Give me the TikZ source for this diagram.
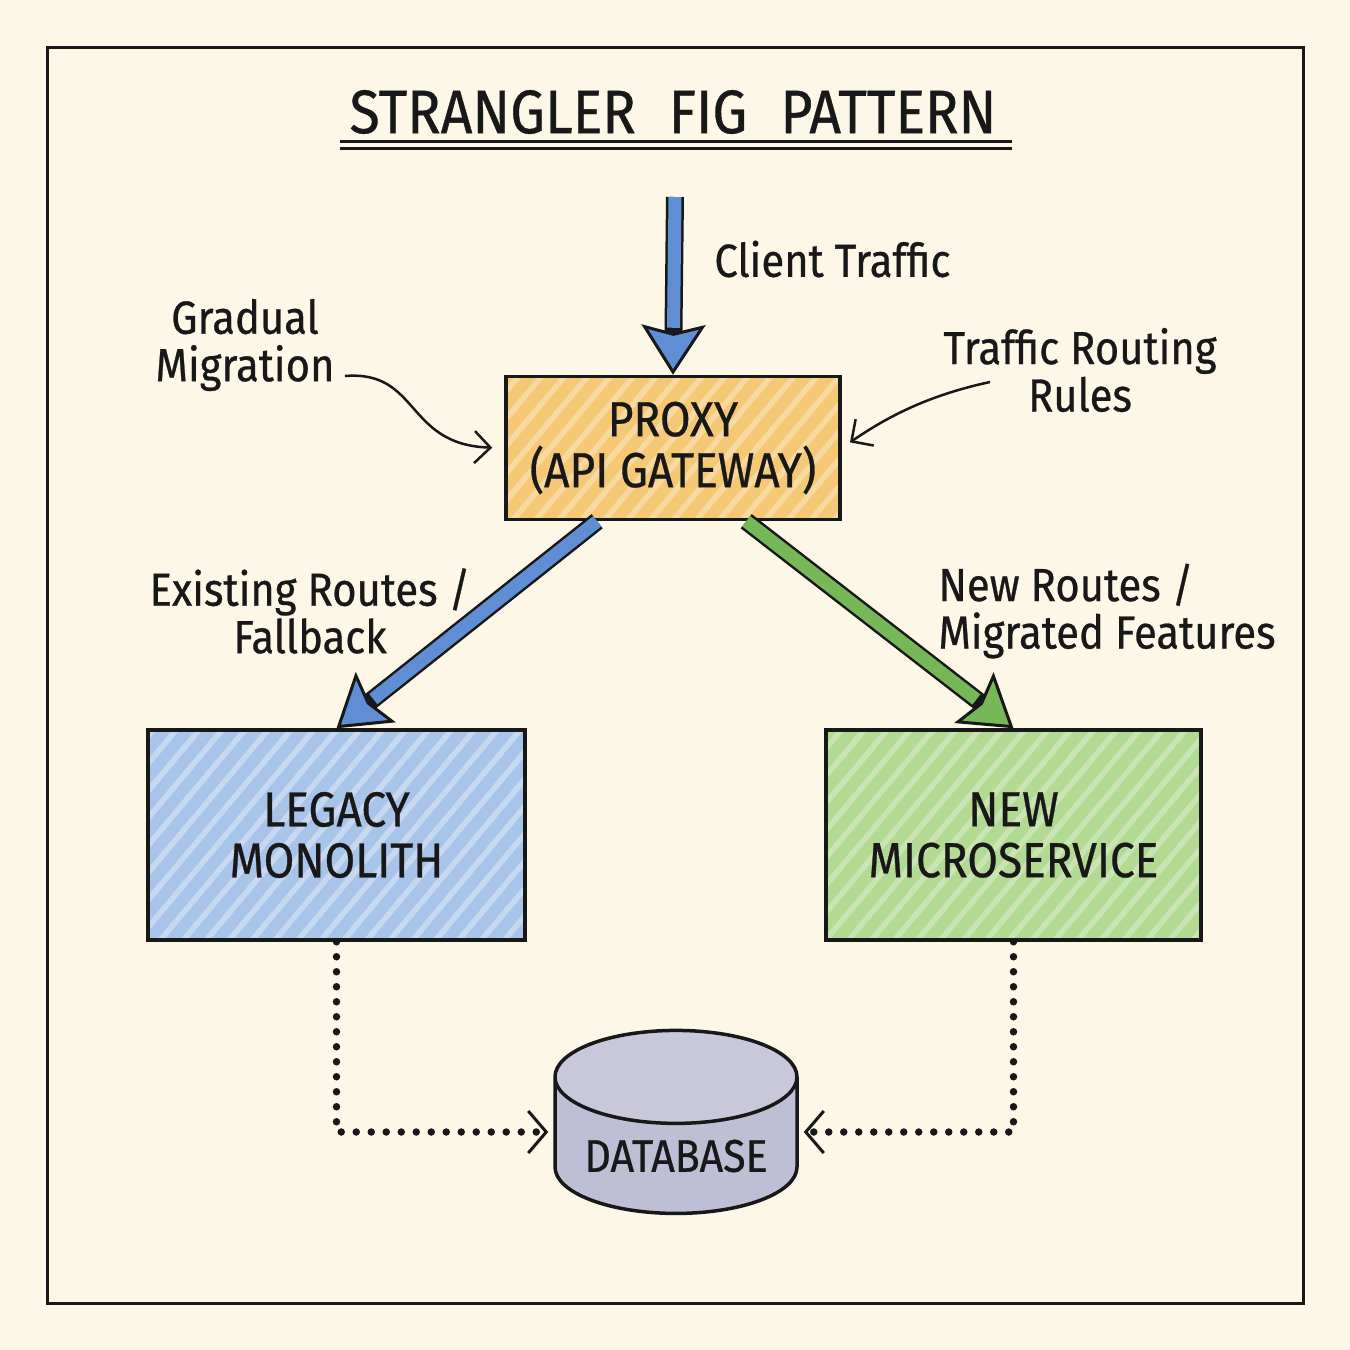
\documentclass[tikz,border=0pt]{standalone}
\usepackage{fontspec}
\setmainfont{Fira Sans}[FakeStretch=0.9, FakeBold=0.6]
\usetikzlibrary{arrows.meta,shapes.geometric,patterns.meta}

\definecolor{paper}{RGB}{252,247,230}
\definecolor{ink}{RGB}{24,24,24}
\definecolor{proxyfill}{RGB}{245,200,118}
\definecolor{legacyfill}{RGB}{168,196,232}
\definecolor{newfill}{RGB}{178,218,146}
\definecolor{dbfill}{RGB}{190,190,212}
\definecolor{arrowblue}{RGB}{96,142,212}
\definecolor{arrowgreen}{RGB}{118,184,88}

\begin{document}
\begin{tikzpicture}[
  box/.style={draw=ink, line width=0.035cm, align=center, text=ink,
    font=\fontsize{14}{14.5}\selectfont},
  hatch/.style={path picture={\fill[pattern={Lines[angle=50, distance=5pt, line width=1.6pt]}, pattern color=#1]
    (path picture bounding box.south west) rectangle (path picture bounding box.north east);}},
  note/.style={text=ink, font=\fontsize{13.2}{13.5}\selectfont},
  fatline/.style={draw=ink, line width=0.18cm},
  thinline/.style={draw=ink, line width=0.025cm},
  dotline/.style={draw=ink, line width=0.075cm, line cap=round,
    dash pattern=on 0pt off 0.15cm}
]
\useasboundingbox (0,0) rectangle (13.5,-13.5);
\fill[paper] (0,0) rectangle (13.5,-13.5);
\draw[ink, line width=0.03cm] (0.47,-0.47) rectangle (13.03,-13.03);

% title
\node[text=ink, font=\fontsize{17.5}{20}\selectfont] (title) at (6.73,-1.12) {STRANGLER\hspace{0.3em} FIG\hspace{0.3em} PATTERN};
\draw[ink, line width=0.03cm] (3.40,-1.41) -- (10.12,-1.41);
\draw[ink, line width=0.03cm] (3.40,-1.48) -- (10.12,-1.48);

% boxes
\node[box, fill=proxyfill, hatch=white!30!proxyfill, minimum width=3.34cm, minimum height=1.43cm] (proxy) at (6.73,-4.48) {PROXY\\(API GATEWAY)};
\node[box, fill=legacyfill, hatch=white!35!legacyfill, minimum width=3.77cm, minimum height=2.10cm] (legacy) at (3.365,-8.35) {LEGACY\\MONOLITH};
\node[box, fill=newfill, hatch=white!30!newfill, minimum width=3.75cm, minimum height=2.10cm] (new) at (10.135,-8.35) {NEW\\MICROSERVICE};
\node[cylinder, shape border rotate=90, draw=ink, line width=0.035cm, aspect=0.45,
  minimum width=2.42cm, minimum height=1.83cm, text=ink, font=\fontsize{13}{14}\selectfont,
  cylinder uses custom fill, cylinder body fill=dbfill, cylinder end fill=dbfill!85!white] (db) at (6.76,-11.56) {DATABASE};

% labels
\node[note, anchor=west] (client) at (7.02,-2.59) {Client Traffic};
\node[note, align=center] (gradual) at (2.45,-3.45) {Gradual\\Migration};
\node[note, align=center] (rules) at (10.80,-3.70) {Traffic Routing\\Rules};
\node[note, align=center] (existing) at (3.10,-6.11) {Existing Routes /\\Fallback};
\node[note, align=left, anchor=west] (newroutes) at (9.26,-6.11) {New Routes /\\Migrated Features};

\coordinate (ct) at (6.75,-1.97);
\coordinate (gmtail) at (3.45,-3.76);
\coordinate (trtail) at (9.90,-3.82);

% fat arrows
\path[fatline, -{Stealth[inset=0.08cm, length=0.50cm, width=0.64cm, line width=0.03cm, fill=arrowblue]}] (ct) -- (proxy.north);
\path[draw=arrowblue, line width=0.13cm, shorten >=0.47cm] (ct) -- (proxy.north);
\path[fatline, -{Stealth[inset=0.08cm, length=0.50cm, width=0.64cm, line width=0.03cm, fill=arrowblue]}] (proxy.-136) -- (legacy.north);
\path[draw=arrowblue, line width=0.13cm, shorten >=0.47cm] (proxy.-136) -- (legacy.north);
\path[fatline, -{Stealth[inset=0.08cm, length=0.50cm, width=0.64cm, line width=0.03cm, fill=arrowgreen]}] (proxy.-45) -- (new.north);
\path[draw=arrowgreen, line width=0.13cm, shorten >=0.47cm] (proxy.-45) -- (new.north);

% thin curved arrows
\path[thinline, -{Straight Barb[length=0.16cm, width=0.32cm]}, shorten >=0.12cm] (gmtail) .. controls (4.20,-3.70) and (4.05,-4.45) .. (proxy.west);
\path[thinline, -{Straight Barb[length=0.16cm, width=0.32cm]}, shorten >=0.10cm] (trtail) .. controls (9.30,-3.95) and (8.90,-4.15) .. (proxy.east);

% dotted links to database
\path[dotline, -{Straight Barb[length=0.18cm, width=0.42cm, line width=0.03cm]}, shorten >=0.05cm] (legacy.south) |- ([yshift=0.24cm]db.west);
\path[dotline, -{Straight Barb[length=0.18cm, width=0.42cm, line width=0.03cm]}, shorten >=0.05cm] (new.south) |- ([yshift=0.24cm]db.east);
\end{tikzpicture}
\end{document}
